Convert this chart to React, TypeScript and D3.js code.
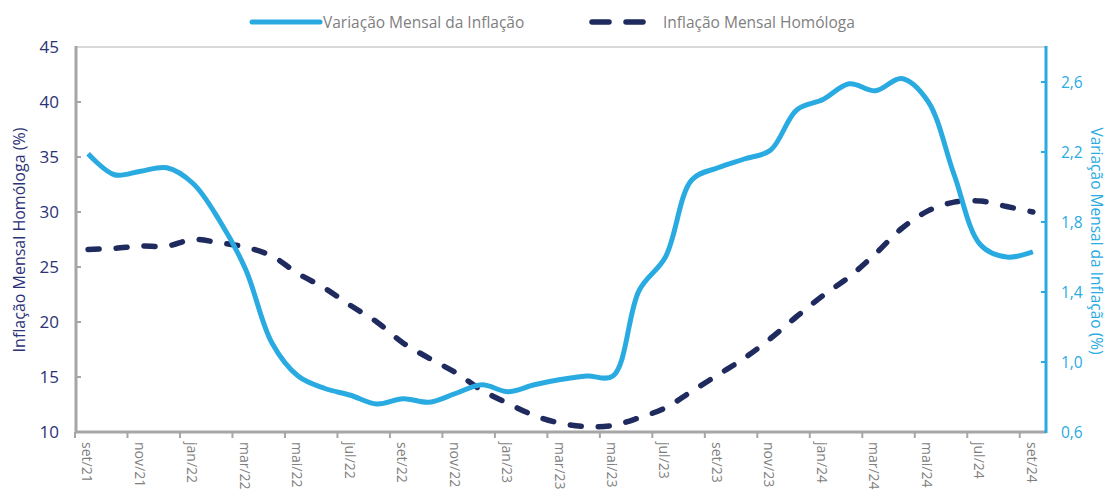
import React from 'react';
import * as d3 from 'd3';

// months set/21 .. set/24
const months = [
  'set/21', 'out/21', 'nov/21', 'dez/21', 'jan/22', 'fev/22', 'mar/22', 'abr/22', 'mai/22', 'jun/22',
  'jul/22', 'ago/22', 'set/22', 'out/22', 'nov/22', 'dez/22', 'jan/23', 'fev/23', 'mar/23', 'abr/23',
  'mai/23', 'jun/23', 'jul/23', 'ago/23', 'set/23', 'out/23', 'nov/23', 'dez/23', 'jan/24', 'fev/24',
  'mar/24', 'abr/24', 'mai/24', 'jun/24', 'jul/24', 'ago/24', 'set/24'
];

// Variação Mensal da Inflação (%), right axis
const mensal = [
  2.19, 2.07, 2.09, 2.11, 2.02, 1.81, 1.53, 1.11, 0.92, 0.85,
  0.81, 0.76, 0.79, 0.77, 0.82, 0.87, 0.83, 0.87, 0.90, 0.92,
  0.92, 1.41, 1.60, 2.04, 2.11, 2.16, 2.21, 2.44, 2.50, 2.59,
  2.55, 2.62, 2.49, 2.07, 1.67, 1.60, 1.63
];

// Inflação Mensal Homóloga (%), left axis
const homologa = [
  26.6, 26.7, 26.9, 26.9, 27.5, 27.2, 26.8, 26.0, 24.4, 23.1,
  21.5, 20.0, 18.1, 16.7, 15.4, 13.8, 12.6, 11.5, 10.8, 10.5,
  10.6, 11.3, 12.2, 13.7, 15.2, 16.7, 18.5, 20.5, 22.4, 24.1,
  26.2, 28.5, 30.1, 30.9, 31.0, 30.5, 30.0
];

const leftTicks = [10, 15, 20, 25, 30, 35, 40, 45];
const rightTicks = [0.6, 1.0, 1.4, 1.8, 2.2, 2.6];

const FONT = '"Open Sans", sans-serif';
const CYAN = '#29ABE2';
const NAVY = '#1F2A5E';
const GRAY = '#A6A6A6';
const TEXT_GRAY = '#7F7F7F';

export default function App() {
  const W = 1108, H = 492;
  const left = 76, right = 1046, top = 47, bottom = 432;

  const x = d3.scaleBand().domain(months).range([left - 1, right]).paddingInner(0).paddingOuter(0);
  const yL = d3.scaleLinear().domain([10, 45]).range([bottom, top]);
  const yR = d3.scaleLinear().domain([0.6, 2.8]).range([bottom, top]);
  const cx = (m: string) => (x(m) as number) + x.bandwidth() / 2;

  const lineMensal = d3.line<number>()
    .x((d, i) => cx(months[i]))
    .y(d => yR(d))
    .curve(d3.curveCatmullRom.alpha(0.5));
  const lineHom = d3.line<number>()
    .x((d, i) => cx(months[i]))
    .y(d => yL(d))
    .curve(d3.curveCatmullRom.alpha(0.5));

  const labelled = months.filter((m, i) => i % 2 === 0);

  return (
    <div style={{ position: 'absolute', left: 0, top: 0 }}>
      <svg width={W} height={H} style={{ display: 'block', background: '#fff' }} fontFamily={FONT}>
        {/* legend */}
        <g>
          <line x1={252} x2={320} y1={22} y2={22} stroke={CYAN} strokeWidth={5} strokeLinecap="round" />
          <text x={323} y={28} fontSize={15.5} fill={TEXT_GRAY}>Variação Mensal da Inflação</text>
          <line x1={592} x2={647} y1={22} y2={22} stroke={NAVY} strokeWidth={5.5} strokeLinecap="round" strokeDasharray="17 17" />
          <text x={663} y={28} fontSize={15.5} fill={TEXT_GRAY}>Inflação Mensal Homóloga</text>
        </g>

        {/* frame */}
        <line x1={left} x2={right} y1={top} y2={top} stroke="#D9D9D9" strokeWidth={2} />
        <line x1={left} x2={left} y1={top - 1} y2={bottom + 1} stroke={GRAY} strokeWidth={3} />
        <line x1={left - 1} x2={right} y1={bottom} y2={bottom} stroke={GRAY} strokeWidth={3} />
        <line x1={right} x2={right} y1={top - 1} y2={bottom + 1} stroke={CYAN} strokeWidth={3} />

        {/* left axis */}
        {leftTicks.map(t => (
          <g key={'l' + t}>
            {t !== 10 && t !== 45 && <line x1={left} x2={left + 5} y1={yL(t)} y2={yL(t)} stroke={GRAY} strokeWidth={2} />}
            <text x={59} y={yL(t) + 6} fontSize={17} textAnchor="end" fill="#2B3276">{t}</text>
          </g>
        ))}
        <text transform={`translate(25,240) rotate(-90)`} textAnchor="middle" fontSize={16} fill="#2B3276">
          Inflação Mensal Homóloga (%)
        </text>

        {/* right axis */}
        {rightTicks.map(t => (
          <g key={'r' + t}>
            {t !== 0.6 && <line x1={right - 5} x2={right} y1={yR(t)} y2={yR(t)} stroke={CYAN} strokeWidth={2} />}
            <text x={1061} y={yR(t) + 6} fontSize={15.5} fill={CYAN}>{d3.format('.1f')(t).replace('.', ',')}</text>
          </g>
        ))}
        <text transform={`translate(1091,241) rotate(90)`} textAnchor="middle" fontSize={15.5} fill={CYAN}>
          Variação Mensal da Inflação (%)
        </text>

        {/* x axis */}
        {labelled.map(m => (
          <g key={m}>
            <line x1={x(m) as number} x2={x(m) as number} y1={bottom} y2={bottom + 6} stroke={GRAY} strokeWidth={2} />
            <text transform={`translate(${cx(m) - 6},${bottom + 10}) rotate(90)`} fontSize={14} fill={TEXT_GRAY}>{m}</text>
          </g>
        ))}

        {/* series */}
        <path d={lineHom(homologa) || ''} fill="none" stroke={NAVY} strokeWidth={5.5} strokeLinecap="round" strokeDasharray="11 17" />
        <path d={lineMensal(mensal) || ''} fill="none" stroke={CYAN} strokeWidth={5} strokeLinejoin="round" />
      </svg>
    </div>
  );
}
